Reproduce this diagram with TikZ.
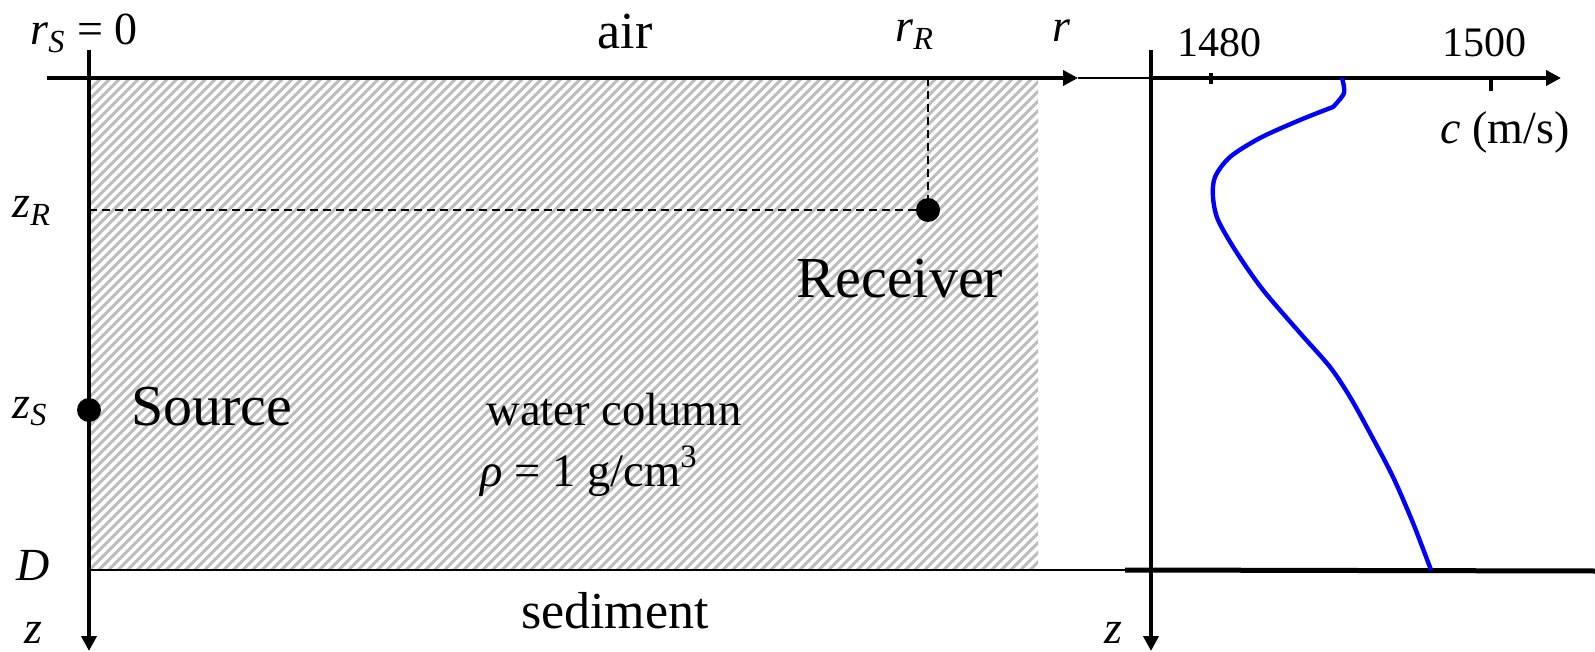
\documentclass[tikz,border=0pt]{standalone}
\usepackage{fontspec}
\setmainfont{Liberation Serif}
\usetikzlibrary{arrows.meta,positioning}
\definecolor{hatchGray}{gray}{0.74}
\definecolor{profileBlue}{rgb}{0,0,1}
\newcommand{\idx}[2]{\textit{#1}\textsubscript{\textit{#2}}}

\begin{document}
\begin{tikzpicture}[
  x=0.5pt,y=-0.5pt,
  axis/.style={line width=2.2pt,-{Triangle[length=7.5pt,width=7.5pt]}},
  thinln/.style={line width=1pt},
  tick/.style={line width=2pt},
  guide/.style={line width=1.2pt,dash pattern=on 4pt off 2.5pt},
  dotpt/.style={circle,fill=black,inner sep=0pt,minimum size=12pt},
  lbl/.style={inner sep=0pt,font=\fontsize{23}{27}\selectfont},
  numlbl/.style={inner sep=0pt,font=\fontsize{21}{25}\selectfont},
  region/.style={inner sep=0pt,font=\fontsize{26}{31}\selectfont},
  bigtxt/.style={inner sep=0pt,font=\fontsize{29}{34}\selectfont},
  midtxt/.style={inner sep=0pt,font=\fontsize{23.3}{28}\selectfont},
  profile/.style={profileBlue,line width=2.2pt,line join=round}
]
\useasboundingbox (0,0) rectangle (1595,652);

% water column
\begin{scope}
\clip (89,78) rectangle (1038,569);
\foreach \c in {160,169.6,...,1620}
  \draw[hatchGray,line width=1.5pt] (\c-700,700) -- (\c,0);
\end{scope}

\coordinate (rstart) at (47,78);
\coordinate (rend) at (1078,78);
\coordinate (ztop) at (89,50);
\coordinate (zend) at (89,651);
\coordinate (cstart) at (1151,78);
\coordinate (cend) at (1561,78);
\coordinate (z2top) at (1151,50);
\coordinate (z2end) at (1151,651);
\coordinate (zRpt) at (89,210);
\coordinate (rRpt) at (928,78);
\coordinate (dL) at (89,570);
\coordinate (dM) at (1125,570);
\coordinate (dR) at (1595,571);
\coordinate (t1a) at (1211,73);
\coordinate (t1b) at (1211,84);
\coordinate (t2a) at (1491,78);
\coordinate (t2b) at (1491,91);

\node[dotpt] (src) at (89,410) {};
\node[dotpt] (rcv) at (928,210) {};

\draw[guide] (zRpt) -- (rcv);
\draw[guide] (rRpt) -- (rcv);

\draw[thinln] (dL) -- (dM);
\draw[line width=2.5pt] (dM) -- (dR);
\draw[axis] (rstart) -- (rend);
\draw[axis] (ztop) -- (zend);
\draw[thinln] (rend) -- (cstart);
\draw[axis] (cstart) -- (cend);
\draw[axis] (z2top) -- (z2end);
\draw[tick] (t1a) -- (t1b);
\draw[tick] (t2a) -- (t2b);

\draw[profile] plot[smooth] coordinates {(1342,78) (1344,93) (1333,107)}
  -- plot[smooth] coordinates {(1333,107) (1300,120) (1260,138) (1230,157)
     (1215,177) (1213,197) (1218,220) (1237,253) (1263,290) (1300,333)
     (1330,367) (1350,397) (1370,433) (1393,477) (1413,523) (1431,570)};

\node[lbl,anchor=base west] (rS) at (30,45) {\idx{r}{S} = 0};
\node[region,anchor=base] (air) at (625,49) {air};
\node[lbl,anchor=base west] (rR) at (895,42) {\idx{r}{R}};
\node[lbl,anchor=base] (rlbl) at (1062,42) {\textit{r}};
\node[numlbl,anchor=base] (n1480) at (1219,57) {1480};
\node[numlbl,anchor=base] (n1500) at (1484,57) {1500};
\node[lbl,anchor=base] (clbl) at (1505,144) {\textit{c} (m/s)};
\node[lbl,anchor=base west] (zR) at (12,218) {\idx{z}{R}};
\node[lbl,anchor=base west] (zS) at (12,418) {\idx{z}{S}};
\node[bigtxt,anchor=base west] (srclbl) at (131,425) {Source};
\node[bigtxt,anchor=base] (rcvlbl) at (900,298) {Receiver};
\node[midtxt,anchor=base west] (water) at (486,425) {water column};
\node[midtxt,anchor=base west] (rho) at (480,486) {\textit{ρ} = 1 g/cm\textsuperscript{3}};
\node[lbl,anchor=base west] (Dlbl) at (16,580) {\textit{D}};
\node[region,anchor=base] (sed) at (615,628) {sediment};
\node[lbl,anchor=base west] (zlbl) at (24,643) {\textit{z}};
\node[lbl,anchor=base] (z2lbl) at (1113,643) {\textit{z}};
\end{tikzpicture}
\end{document}
